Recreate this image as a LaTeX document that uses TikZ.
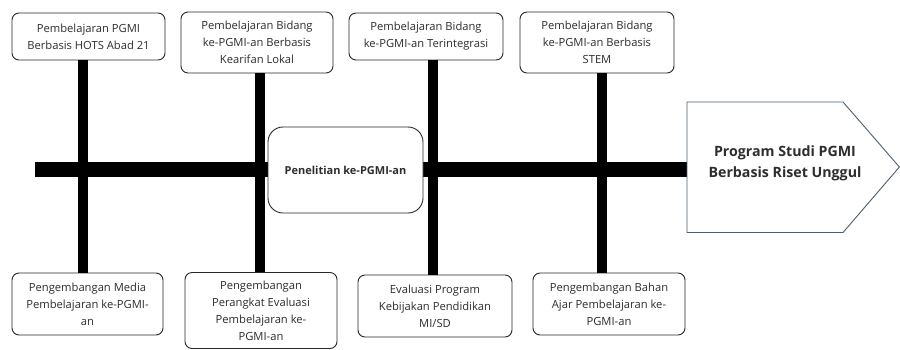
\documentclass[tikz,border=0pt]{standalone}
\usepackage{fontspec}
\setmainfont{Open Sans}
\usepackage{tikz}
\usetikzlibrary{positioning,calc}
\definecolor{TeksAbu}{RGB}{45,45,45}
\definecolor{GarisAbu}{RGB}{40,40,40}
\definecolor{GarisBiru}{RGB}{75,95,110}
\tikzset{
  cabang/.style={draw=GarisAbu,fill=white,line width=0.9pt,rounded corners=7pt,
    align=center,text=TeksAbu,font=\fontsize{11.2}{17}\selectfont,inner sep=0pt},
  pusat/.style={cabang,rounded corners=15pt,font=\bfseries\fontsize{11}{17}\selectfont},
  tulang/.style={draw=black,line width=10pt},
  punggung/.style={draw=black,line width=15pt},
}
\tikzset{kepala/.style={draw=GarisBiru,fill=white,line width=0.9pt},
  judul/.style={align=center,text=TeksAbu,font=\bfseries\fontsize{14.2}{21}\selectfont}}

\begin{document}
\begin{tikzpicture}[x=1pt,y=-1pt]
\useasboundingbox (0,0) rectangle (900,349);
% posisi tulang
\coordinate (t1) at (83,0);
\coordinate (t2) at (260,0);
\coordinate (t3) at (433,0);
\coordinate (t4) at (602,0);
\coordinate (ekor) at (35,169.5);
\coordinate (p1) at (687,102);
\coordinate (p2) at (843,102);
\coordinate (p3) at (899.4,167);
\coordinate (p4) at (843,232.5);
\coordinate (p5) at (687,232.5);
% kotak atas
\node[cabang,minimum width=153pt,minimum height=47pt] (b1) at (88.5,36.5) {Pembelajaran PGMI\\Berbasis HOTS Abad 21};
\node[cabang,minimum width=152pt,minimum height=61pt] (b2) at (257,42.5) {Pembelajaran Bidang\\ke-PGMI-an Berbasis\\Kearifan Lokal};
\node[cabang,minimum width=154pt,minimum height=47pt] (b3) at (426,36.5) {Pembelajaran Bidang\\ke-PGMI-an Terintegrasi};
\node[cabang,minimum width=154pt,minimum height=61pt] (b4) at (597,42.5) {Pembelajaran Bidang\\ke-PGMI-an Berbasis\\STEM};
% kotak bawah
\node[cabang,minimum width=151pt,minimum height=62pt] (b5) at (87.5,304) {Pengembangan Media\\Pembelajaran ke-PGMI-\\an};
\node[cabang,minimum width=152pt,minimum height=76pt] (b6) at (261,310.5) {Pengembangan\\Perangkat Evaluasi\\Pembelajaran ke-\\PGMI-an};
\node[cabang,minimum width=154pt,minimum height=62pt] (b7) at (435,306) {Evaluasi Program\\Kebijakan Pendidikan\\MI/SD};
\node[cabang,minimum width=152pt,minimum height=62pt] (b8) at (609,304) {Pengembangan Bahan\\Ajar Pembelajaran ke-\\PGMI-an};
% punggung dan tulang
\draw[punggung] (ekor) -- (ekor -| p1);
\foreach \t/\a/\b in {t1/b1/b5,t2/b2/b6,t3/b3/b7,t4/b4/b8}
  \draw[tulang] (\t |- \a.south) -- (\t |- \b.north);
% kotak tengah
\node[pusat,minimum width=155pt,minimum height=86pt] (pt) at (345.5,170) {Penelitian ke-PGMI-an};
% kepala ikan
\draw[kepala] (p1) -- (p2) -- (p3) -- (p4) -- (p5) -- cycle;
\node[judul] (tujuan) at (785,163.5) {Program Studi PGMI\\Berbasis Riset Unggul};
\end{tikzpicture}
\end{document}
